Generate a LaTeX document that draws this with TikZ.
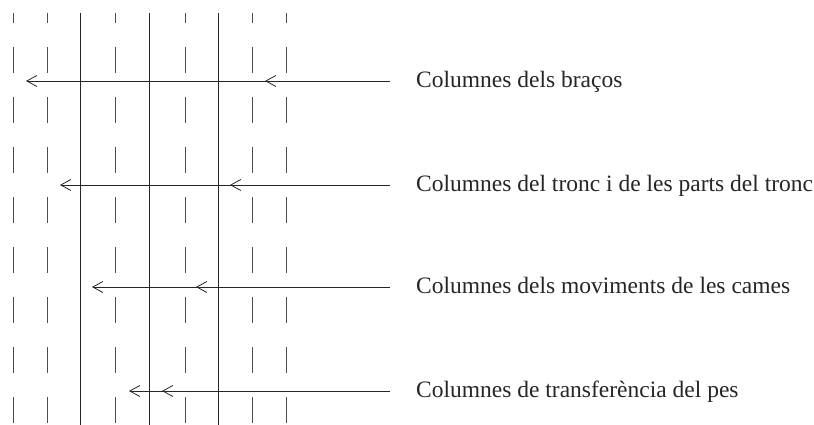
\documentclass[tikz,border=0pt]{standalone}
\usepackage{fontspec}
\setmainfont{Liberation Serif}
\usetikzlibrary{arrows.meta}
\begin{document}
\begin{tikzpicture}[x=1pt,y=-1pt,
  solidcol/.style={draw=black!85,line width=0.8pt},
  dashcol/.style={draw=black!70,line width=0.9pt,dash pattern=on 26pt off 24pt,dash phase=16pt},
  barb/.style={draw=black!85,line width=0.8pt,-{Straight Barb[length=10pt,width=11pt]}},
  lab/.style={anchor=base west,inner sep=0pt,font=\fontsize{23.5}{27}\selectfont,text=black!85}]
\useasboundingbox (0,0) rectangle (814,425);
% vertical lines
\foreach \x/\n in {13.5/d1,47.5/d2,115/d3,185.5/d4,252/d5,286/d6}{
  \coordinate (\n t) at (\x,13);
  \coordinate (\n b) at (\x,425);
  \draw[dashcol] (\n t) -- (\n b);
}
\foreach \x/\n in {80/s1,149.5/s2,218/s3}{
  \coordinate (\n t) at (\x,13);
  \coordinate (\n b) at (\x,425);
  \draw[solidcol] (\n t) -- (\n b);
}
% arrows and labels
\foreach \y/\a/\b/\n/\t in {
  81/26/265/r1/{Columnes dels braços},
  185/60/230/r2/{Columnes del tronc i de les parts del tronc},
  287/92/196/r3/{Columnes dels moviments de les cames},
  391/129/162/r4/{Columnes de transferència del pes}}{
  \coordinate (\n s) at (390,\y);
  \coordinate (\n a) at (\a,\y);
  \coordinate (\n m) at (\b,\y);
  \node[lab] (\n l) at (416,\y+6.5) {\t};
  \draw[barb] (\n s) -- (\n a);
  \draw[barb] (\n s) -- (\n m);
}
\end{tikzpicture}
\end{document}
